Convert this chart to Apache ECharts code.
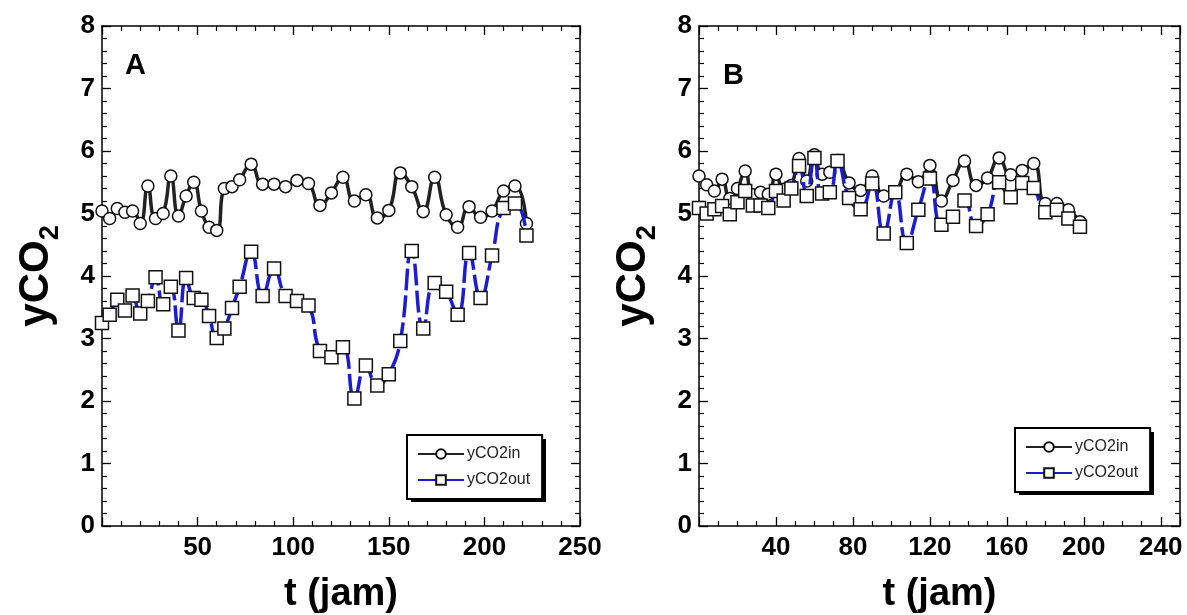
<!DOCTYPE html>
<html>
<head>
<meta charset="utf-8">
<script src="https://cdn.jsdelivr.net/npm/echarts@6/dist/echarts.min.js"></script>
<style>
html,body{margin:0;padding:0;background:#fff;}
#c{width:1187px;height:615px;}
</style>
</head>
<body>
<div id="c"></div>
<script>
// Panel A
const tA = [0,4,8,12,16,20,24,28,32,36,40,44,48,52,56,60,64,68,72,78,84,90,96,102,108,114,120,126,132,138,144,150,156,162,168,174,180,186,192,198,204,210,216,222];
const inA = [5.04,4.92,5.08,5.02,5.04,4.84,5.44,4.92,5.00,5.60,4.96,5.28,5.50,5.04,4.78,4.73,5.40,5.43,5.54,5.79,5.47,5.47,5.43,5.53,5.48,5.13,5.33,5.58,5.20,5.30,4.93,5.05,5.65,5.43,5.03,5.58,4.98,4.78,5.11,4.94,5.04,5.36,5.44,4.84];
const outA = [3.25,3.38,3.62,3.45,3.69,3.40,3.60,3.98,3.55,3.83,3.13,3.97,3.65,3.62,3.36,3.01,3.16,3.49,3.83,4.39,3.68,4.12,3.68,3.60,3.53,2.80,2.70,2.86,2.04,2.57,2.25,2.43,2.96,4.40,3.16,3.89,3.75,3.38,4.37,3.65,4.33,5.09,5.16,4.65];
// Panel B
const tB = [0,4,8,12,16,20,24,28,32,36,40,44,48,52,56,60,64,68,72,78,84,90,96,102,108,114,120,126,132,138,144,150,156,162,168,174,180,186,192,198];
const inB = [5.60,5.46,5.36,5.55,5.24,5.40,5.68,5.30,5.34,5.31,5.63,5.39,5.45,5.88,5.52,5.94,5.63,5.66,5.85,5.49,5.37,5.60,5.28,5.34,5.63,5.51,5.77,5.20,5.53,5.84,5.45,5.57,5.89,5.62,5.69,5.80,5.16,5.16,5.06,4.87];
const outB = [5.09,5.00,5.07,5.12,4.99,5.18,5.36,5.13,5.13,5.09,5.36,5.21,5.40,5.76,5.28,5.89,5.32,5.34,5.84,5.25,5.07,5.48,4.68,5.34,4.53,5.06,5.56,4.82,4.95,5.21,4.80,4.99,5.50,5.26,5.49,5.41,5.02,5.06,4.92,4.79];

const seriesNames = ['yCO2in','yCO2out'];
const xLabel = 't (jam)';
const panelLabels = ['A','B'];

const FONT = "'Liberation Sans', Arial, sans-serif";
const pair = (t, v) => t.map((x, i) => [x, v[i]]);

function xAxes(gi, interval, split) {
  const base = {
    gridIndex: gi, type: 'value', min: 0, max: 250, interval: interval,
    axisLine: {onZero: false, lineStyle: {color: '#000', width: 1.5}},
    axisTick: {inside: true, length: 9, lineStyle: {color: '#000', width: 1.3}},
    minorTick: {show: true, splitNumber: split, length: 5, lineStyle: {color: '#000', width: 1.2}},
    splitLine: {show: false}, minorSplitLine: {show: false}
  };
  return [
    Object.assign({}, base, {
      position: 'bottom',
      name: xLabel, nameLocation: 'middle', nameGap: 50,
      nameTextStyle: {fontFamily: FONT, fontWeight: 'bold', fontSize: 38, color: '#000'},
      axisLabel: {fontFamily: FONT, fontWeight: 'bold', fontSize: 26, color: '#000', margin: 9,
        showMinLabel: false, showMaxLabel: gi === 0,
        formatter: v => (v === 0 ? '' : String(v))}
    }),
    Object.assign({}, base, {position: 'top', axisLabel: {show: false}})
  ];
}
function yAxes(gi) {
  const base = {
    gridIndex: gi, type: 'value', min: 0, max: 8, interval: 1,
    axisLine: {onZero: false, lineStyle: {color: '#000', width: 1.5}},
    axisTick: {inside: true, length: 9, lineStyle: {color: '#000', width: 1.3}},
    minorTick: {show: true, splitNumber: 5, length: 5, lineStyle: {color: '#000', width: 1.2}},
    splitLine: {show: false}, minorSplitLine: {show: false}
  };
  return [
    Object.assign({}, base, {
      position: 'left',
      name: '{a|yCO}{b|2}', nameLocation: 'middle', nameGap: 38, nameRotate: 90,
      nameTextStyle: {color: '#000', rich: {
        a: {fontFamily: FONT, fontWeight: 'bold', fontSize: 42, lineHeight: 56, color: '#000'},
        b: {fontFamily: FONT, fontWeight: 'bold', fontSize: 27, lineHeight: 27, verticalAlign: 'bottom', color: '#000'}
      }},
      axisLabel: {fontFamily: FONT, fontWeight: 'bold', fontSize: 26, color: '#000', margin: 7}
    }),
    Object.assign({}, base, {position: 'right', axisLabel: {show: false}})
  ];
}
function mkSeries(gi, t, vin, vout) {
  return [
    {name: seriesNames[0], type: 'line', xAxisIndex: gi * 2, yAxisIndex: gi * 2,
     data: pair(t, vin), smooth: 0.5, symbol: 'circle', symbolSize: 12,
     lineStyle: {color: '#222', width: 3.5},
     itemStyle: {color: '#fff', borderColor: '#111', borderWidth: 1.5},
     color: '#222', z: 2},
    {name: seriesNames[1], type: 'line', xAxisIndex: gi * 2, yAxisIndex: gi * 2,
     data: pair(t, vout), smooth: 0.5, symbol: 'rect', symbolSize: 13,
     lineStyle: {color: '#1c1cd0', width: 3.5, type: [22, 5]},
     itemStyle: {color: '#fff', borderColor: '#111', borderWidth: 1.5},
     color: '#1c1cd0', z: 3}
  ];
}
function mkLegend(left, top) {
  return {
    left: left, top: top, orient: 'vertical', data: seriesNames,
    itemWidth: 46, itemHeight: 12, itemGap: 10, padding: [11, 12, 11, 10],
    backgroundColor: '#fff', borderColor: '#000', borderWidth: 2, borderRadius: 0,
    textStyle: {fontFamily: FONT, fontSize: 16, color: '#222', padding: [0, 0, 0, -2]},
    selectedMode: false, z: 10
  };
}
function legendShadow(left, top, w, h) {
  return {type: 'rect', left: left + 4, top: top + 4, z: 5, silent: true,
    shape: {width: w, height: h}, style: {fill: '#000'}};
}

const chart = echarts.init(document.getElementById('c'), null, {renderer: 'canvas'});
chart.setOption({
  backgroundColor: '#fff',
  animation: false,
  title: [
    {text: panelLabels[0], left: 120, top: 46, textStyle: {fontFamily: FONT, fontWeight: 'bold', fontSize: 29, color: '#000'}},
    {text: panelLabels[1], left: 718, top: 56, textStyle: {fontFamily: FONT, fontWeight: 'bold', fontSize: 29, color: '#000'}}
  ],
  grid: [
    {left: 102, right: 607, top: 26, bottom: 89, outerBoundsMode: 'none', containLabel: false},
    {left: 699, right: 7, top: 26, bottom: 89, outerBoundsMode: 'none', containLabel: false}
  ],
  xAxis: [...xAxes(0, 50, 5), ...xAxes(1, 40, 4)],
  yAxis: [...yAxes(0), ...yAxes(1)],
  legend: [mkLegend(407, 435), mkLegend(1015, 428)],
  graphic: [legendShadow(407, 435, 135, 63), legendShadow(1015, 428, 135, 63)],
  series: [...mkSeries(0, tA, inA, outA), ...mkSeries(1, tB, inB, outB)]
});
</script>
</body>
</html>
